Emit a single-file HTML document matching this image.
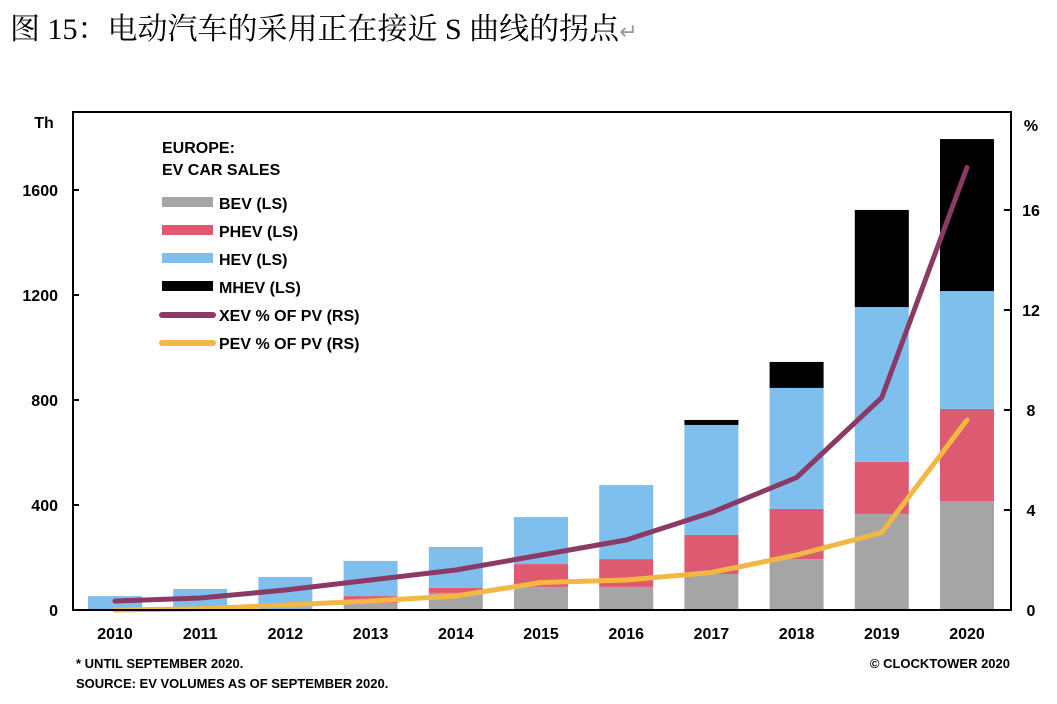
<!DOCTYPE html>
<html><head><meta charset="utf-8">
<style>
body{margin:0;width:1057px;height:704px;background:#fff;overflow:hidden;font-family:"Liberation Sans",Arial,sans-serif;}
#title{position:absolute;left:10px;top:4px;font-family:"Liberation Serif","Noto Serif CJK SC",serif;font-size:30px;color:#000;white-space:nowrap;}
svg{position:absolute;left:0;top:0;}
text{font-family:"Liberation Sans",Arial,sans-serif;font-weight:bold;fill:#000;}
</style></head><body>
<div id="title">图 15：电动汽车的采用正在接近 S 曲线的拐点<span style="color:#999;font-size:22px">↵</span></div>
<svg id="chart" width="1057" height="704"></svg>
<script>
const years=["2010","2011","2012","2013","2014","2015","2016","2017","2018","2019","2020"];
const bev=[0,0,3,27,65,88,88,137,194,366,415];
const phev=[0,0,0,26,19,87,106,149,191,198,351];
const hev=[53,80,123,134,156,179,282,419,461,590,449];
const mhev=[0,0,0,0,0,0,0,19,99,370,579];
const xev=[0.36,0.48,0.8,1.2,1.6,2.2,2.8,3.9,5.3,8.5,17.7];
const pev=[0,0.05,0.2,0.36,0.56,1.1,1.2,1.5,2.2,3.1,7.6];
const leftTicks=[0,400,800,1200,1600];
const rightTicks=[0,4,8,12,16];
const legendLabels=["BEV (LS)","PHEV (LS)","HEV (LS)","MHEV (LS)","XEV % OF PV (RS)","PEV % OF PV (RS)"];

const NS="http://www.w3.org/2000/svg";
const svg=document.getElementById('chart');
const X0=73,X1=1011,Y0=610,YT=112;
const yL=v=>Y0-v*105/400;
const yR=v=>Y0-v*25;
const xC=i=>115+i*85.2;
const BW=54;
function mk(tag,attrs,parent){const e=document.createElementNS(NS,tag);for(const k in attrs)e.setAttribute(k,attrs[k]);(parent||svg).appendChild(e);return e;}
function txt(s,x,y,anchor,size){const t=mk('text',{x:x,y:y,'text-anchor':anchor||'start','font-size':size||16});t.textContent=s;return t;}

const series=[[bev,'#a5a5a5','bev'],[phev,'#de5a70','phev'],[hev,'#7fbfee','hev'],[mhev,'#000000','mhev']];
years.forEach((yr,i)=>{
  let base=0;
  series.forEach(([arr,col,nm])=>{
    const v=arr[i];if(v<=0)return;
    const r=mk('rect',{x:xC(i)-BW/2,y:yL(base+v),width:BW,height:yL(base)-yL(base+v),fill:col});
    
    
    base+=v;
  });
});
[[xev,'#8b3a66','xev-line'],[pev,'#f2b844','pev-line']].forEach(([arr,col,nm])=>{
  const p=mk('polyline',{points:arr.map((v,i)=>xC(i)+','+yR(v)).join(' '),fill:'none',stroke:col,'stroke-width':5,'stroke-linecap':'round','stroke-linejoin':'round'});
  
  
});
const fr=mk('rect',{x:X0,y:YT,width:X1-X0,height:Y0-YT,fill:'none',stroke:'#000','stroke-width':2});


leftTicks.forEach(v=>{
  mk('line',{x1:X0,x2:X0+6,y1:yL(v),y2:yL(v),stroke:'#000','stroke-width':2});
  const t=txt(String(v),58,yL(v)+6,'end',16);
  
  
});
rightTicks.forEach(v=>{
  mk('line',{x1:X1-7,x2:X1,y1:yR(v),y2:yR(v),stroke:'#000','stroke-width':2});
  const t=txt(String(v),1031,yR(v)+6,'middle',16);
  
  
});
years.forEach((yr,i)=>{
  const t=txt(yr,xC(i),639,'middle',16);
  
  
});
let t=txt('Th',44,128,'middle',16);
t=txt('%',1031,131,'middle',16);
t=txt('EUROPE:',162,153,'start',16);
t=txt('EV CAR SALES',162,175,'start',16);
const legCols=['#a5a5a5','#de5a70','#7fbfee','#000000','#8b3a66','#f2b844'];
legendLabels.forEach((lb,k)=>{
  const y=202+k*28;
  const g=mk('g',{});
  
  
  if(k<4) mk('rect',{x:162,y:y-5,width:51,height:10,fill:legCols[k]},g);
  else mk('line',{x1:162,x2:213,y1:y+1,y2:y+1,stroke:legCols[k],'stroke-width':6,'stroke-linecap':'round'},g);
  const tt=mk('text',{x:219,y:y+7,'font-size':16},g);tt.textContent=lb;
});
t=txt('* UNTIL SEPTEMBER 2020.',76,668,'start',13);
t=txt('SOURCE: EV VOLUMES AS OF SEPTEMBER 2020.',76,688,'start',13);
t=txt('© CLOCKTOWER 2020',1010,668,'end',13);
</script>
</body></html>
